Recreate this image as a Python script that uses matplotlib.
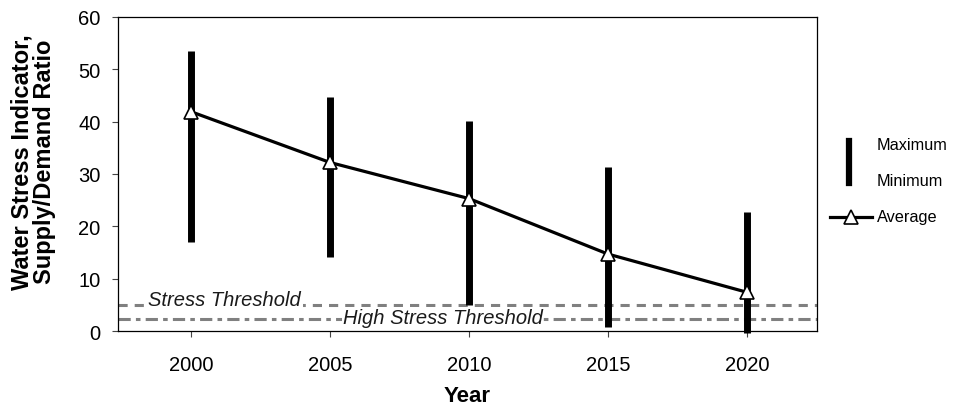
import matplotlib
matplotlib.use('Agg')
import matplotlib.pyplot as plt
from matplotlib.lines import Line2D

plt.rcParams['font.family'] = ['Liberation Sans', 'DejaVu Sans']

years = [2000, 2005, 2010, 2015, 2020]
maximum = [53.5, 44.7, 40.2, 31.4, 22.8]
minimum = [17.1, 14.1, 5.0, 0.8, -0.3]
average = [41.9, 32.2, 25.3, 14.7, 7.4]
stress_threshold = 5
high_stress_threshold = 2.3

W, H = 957, 410
fig = plt.figure(figsize=(W / 100, H / 100), dpi=100)
ax = fig.add_axes([118 / W, 1 - 332 / H, (817 - 118) / W, (332 - 18) / H])

# thresholds
ax.axhline(stress_threshold, color='#808080', lw=2.2, ls=(0, (3, 2.3)), zorder=1)
ax.axhline(high_stress_threshold, color='#808080', lw=2.2,
           ls=(0, (4, 1.7, 1.5, 1.7)), zorder=1)
ax.text(1998.45, stress_threshold, 'Stress Threshold', style='italic',
        fontsize=14.5, ha='left', va='baseline', color='#1a1a1a',
        bbox=dict(fc='white', ec='none', pad=1.5), zorder=2)
ax.text(2005.45, high_stress_threshold + 0.3, 'High Stress Threshold', style='italic',
        fontsize=14.5, ha='left', va='center', color='#1a1a1a',
        bbox=dict(fc='white', ec='none', pad=0.5), zorder=2)

# max/min bars
ax.vlines(years, minimum, maximum, colors='black', lw=5, zorder=3, clip_on=False)
# average line
ax.plot(years, average, color='black', lw=2.3, marker='^', ms=10,
        mfc='white', mec='black', mew=1.2, zorder=4)

ax.set_xlim(1997.37, 2022.52)
ax.set_ylim(0, 60)
ax.set_xticks(years)
ax.set_yticks(range(0, 61, 10))
ax.tick_params(axis='both', labelsize=14.5, length=4.5, width=0.8, color='#444444')
ax.tick_params(axis='x', pad=13)
ax.tick_params(axis='y', pad=8)
for s in ax.spines.values():
    s.set_linewidth(0.9)

ax.set_xlabel('Year', fontsize=16, fontweight='bold', labelpad=8)
fig.text(33 / W, 1 - 162 / H, 'Water Stress Indicator,\nSupply/Demand Ratio',
         rotation=90, ha='center', va='center', multialignment='center',
         fontsize=17, fontweight='bold', linespacing=0.95)

# legend, placed by hand
lx = 877 / W
fig.text(lx, 1 - 145 / H, 'Maximum', fontsize=11.7, va='center', ha='left')
fig.text(lx, 1 - 182 / H, 'Minimum', fontsize=11.7, va='center', ha='left')
fig.text(lx, 1 - 218 / H, 'Average', fontsize=11.7, va='center', ha='left')
fig.add_artist(Line2D([849 / W, 849 / W], [1 - 142 / H, 1 - 184 / H],
                      color='black', lw=4.5, transform=fig.transFigure))
fig.add_artist(Line2D([830 / W, 872 / W], [1 - 218 / H, 1 - 218 / H],
                      color='black', lw=2.3, transform=fig.transFigure))
fig.add_artist(Line2D([851 / W], [1 - 218 / H], color='black', lw=0, marker='^',
                      ms=10, mfc='white', mec='black', mew=1.2,
                      transform=fig.transFigure))

fig.savefig('out.png', dpi=100)
